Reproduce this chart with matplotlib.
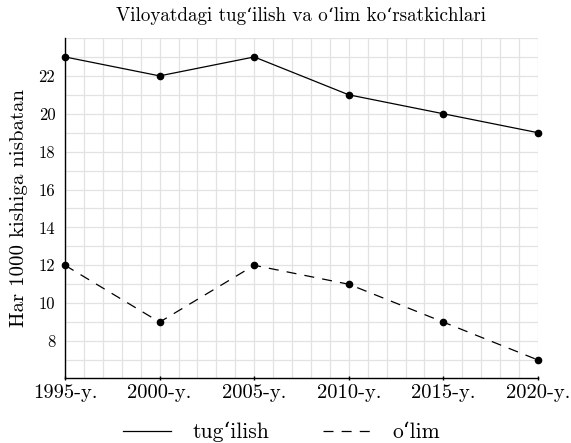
import matplotlib
matplotlib.use("Agg")
import matplotlib.pyplot as plt
from matplotlib.ticker import MultipleLocator

plt.rcParams['font.family'] = ['cmr10', 'DejaVu Serif']
plt.rcParams['axes.formatter.use_mathtext'] = True
plt.rcParams['mathtext.fontset'] = 'cm'

years = [1995, 2000, 2005, 2010, 2015, 2020]
year_labels = ['1995-y.', '2000-y.', '2005-y.', '2010-y.', '2015-y.', '2020-y.']
birth = [23, 22, 23, 21, 20, 19]
death = [12, 9, 12, 11, 9, 7]
y_ticks = [8, 10, 12, 14, 16, 18, 20, 22]

title = "Viloyatdagi tug‘ilish va o‘lim ko‘rsatkichlari"
ylabel = "Har 1000 kishiga nisbatan"
names = ["tug‘ilish", "o‘lim"]

fig = plt.figure(figsize=(5.71, 4.43), dpi=100)
ax = fig.add_axes([65/571, 1-378/443, (538-65)/571, (378-38)/443])

ax.plot(years, birth, color='black', lw=0.9, marker='o', ms=4.5, label=names[0], zorder=3, clip_on=False)
ax.plot(years, death, color='black', lw=0.9, ls=(0, (8, 6.5)), marker='o', ms=4.5, label=names[1], zorder=3, clip_on=False)

ax.set_xlim(1995, 2020)
ax.set_ylim(6.05, 24)
ax.set_xticks(years)
ax.set_xticklabels(year_labels)
ax.set_yticks(y_ticks)
ax.set_yticklabels([str(v) for v in y_ticks])
ax.xaxis.set_minor_locator(MultipleLocator(1))
ax.yaxis.set_minor_locator(MultipleLocator(1))
ax.grid(which='both', color='#e2e2e2', lw=0.9, zorder=0)
ax.set_axisbelow(True)
for s in ['top', 'right']:
    ax.spines[s].set_visible(False)
for s in ['left', 'bottom']:
    ax.spines[s].set_linewidth(1.0)
ax.tick_params(which='minor', length=0)
ax.tick_params(axis='x', which='major', direction='inout', length=3, width=1, labelsize=14.8, pad=3)
ax.tick_params(axis='y', which='major', length=0, labelsize=12, pad=7)

ax.set_title(title, fontsize=13.7, pad=12)
ax.set_ylabel(ylabel, fontsize=15)
ax.yaxis.set_label_coords(-0.078, 0.5)

fig.legend(loc='center', bbox_to_anchor=(0.493, 1-432/443), ncol=2, frameon=False,
           fontsize=15.5, handlelength=2.27, columnspacing=2.5, handletextpad=0.97,
           markerscale=0, borderpad=0.2)

fig.savefig('out.png', dpi=100)
